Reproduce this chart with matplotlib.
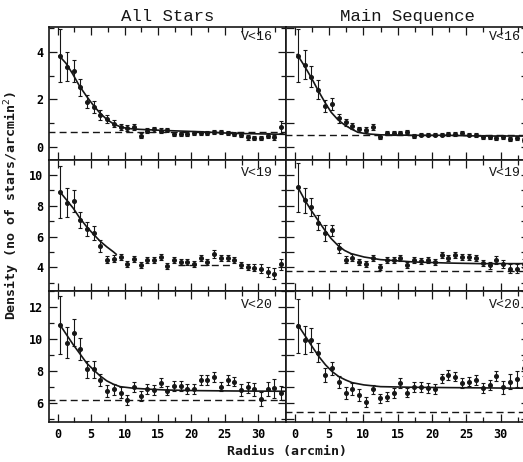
import numpy as np
import matplotlib
matplotlib.use("Agg")
import matplotlib.pyplot as plt
from matplotlib.ticker import MultipleLocator

INK = "#161616"

# radius bins (arcmin), same for every panel
radius = np.arange(34) + 0.4

# --- V<16 ---
all16 = [3.85, 3.38, 3.2, 2.51, 1.9, 1.7, 1.35, 1.17, 0.97, 0.85, 0.8, 0.85, 0.47, 0.69,
         0.74, 0.69, 0.72, 0.55, 0.55, 0.55, 0.58, 0.58, 0.6, 0.62, 0.62, 0.58, 0.55, 0.52,
         0.4, 0.38, 0.38, 0.48, 0.4, 0.85]
all16_err = [1.1, 0.6, 0.45, 0.35, 0.28, 0.25, 0.2, 0.17, 0.15, 0.12, 0.12, 0.12, 0.1, 0.1,
             0.1, 0.1, 0.09, 0.09, 0.09, 0.09, 0.09, 0.09, 0.09, 0.09, 0.09, 0.09, 0.09, 0.09,
             0.1, 0.1, 0.1, 0.12, 0.1, 0.25]
ms16 = [3.85, 3.47, 2.96, 2.4, 1.74, 1.8, 1.2, 1.04, 0.87, 0.74, 0.72, 0.83, 0.4, 0.58,
        0.58, 0.6, 0.62, 0.45, 0.52, 0.52, 0.52, 0.52, 0.56, 0.56, 0.58, 0.52, 0.5, 0.43,
        0.43, 0.36, 0.43, 0.33, 0.38, 0.29]
ms16_err = [1.1, 0.6, 0.45, 0.4, 0.25, 0.25, 0.18, 0.15, 0.13, 0.12, 0.1, 0.12, 0.08, 0.08,
            0.08, 0.08, 0.08, 0.08, 0.08, 0.08, 0.08, 0.08, 0.08, 0.08, 0.08, 0.08, 0.08, 0.08,
            0.08, 0.08, 0.08, 0.08, 0.08, 0.1]

# --- V<19 ---
all19 = [8.9, 8.2, 8.3, 7.07, 6.5, 6.24, 5.37, 4.5, 4.56, 4.67, 4.2, 4.56, 4.13, 4.46,
         4.5, 4.67, 4.07, 4.46, 4.35, 4.35, 4.24, 4.63, 4.35, 4.85, 4.63, 4.63, 4.5, 4.13,
         4.02, 3.98, 3.91, 3.7, 3.59, 4.2]
all19_err = [1.7, 0.95, 0.72, 0.5, 0.45, 0.45, 0.38, 0.25, 0.22, 0.22, 0.2, 0.2, 0.2, 0.2,
             0.2, 0.2, 0.2, 0.2, 0.2, 0.2, 0.2, 0.2, 0.2, 0.25, 0.2, 0.2, 0.2, 0.2,
             0.22, 0.25, 0.3, 0.35, 0.35, 0.35]
ms19 = [9.2, 8.37, 7.9, 6.9, 6.24, 6.41, 5.28, 4.5, 4.63, 4.35, 4.2, 4.63, 4.02, 4.46,
        4.5, 4.63, 4.13, 4.5, 4.41, 4.46, 4.35, 4.78, 4.63, 4.78, 4.67, 4.67, 4.63, 4.28,
        4.13, 4.46, 4.2, 3.91, 3.91, 4.24]
ms19_err = [1.6, 0.82, 0.58, 0.5, 0.5, 0.36, 0.33, 0.22, 0.22, 0.22, 0.2, 0.2, 0.2, 0.2,
            0.2, 0.2, 0.2, 0.2, 0.2, 0.2, 0.2, 0.2, 0.2, 0.2, 0.2, 0.2, 0.2, 0.22,
            0.22, 0.25, 0.25, 0.28, 0.28, 0.3]

# --- V<20 ---
all20 = [10.9, 9.8, 10.42, 9.4, 8.13, 8.13, 7.46, 6.79, 6.88, 6.67, 6.2, 7.0, 6.46, 6.88,
         6.83, 7.29, 6.79, 7.08, 7.08, 6.88, 6.88, 7.46, 7.46, 7.63, 7.04, 7.46, 7.35, 6.83,
         7.0, 6.88, 6.25, 6.88, 6.94, 6.63]
all20_err = [1.8, 1.0, 0.86, 0.68, 0.52, 0.54, 0.39, 0.37, 0.35, 0.35, 0.3, 0.3, 0.3, 0.3,
             0.3, 0.3, 0.3, 0.3, 0.3, 0.3, 0.3, 0.3, 0.3, 0.3, 0.3, 0.3, 0.3, 0.35,
             0.35, 0.4, 0.45, 0.45, 0.6, 0.45]
ms20 = [10.83, 9.96, 9.96, 9.17, 7.77, 8.19, 7.35, 6.63, 6.88, 6.52, 6.1, 6.88, 6.31, 6.42,
        6.63, 7.25, 6.67, 7.0, 7.0, 6.94, 6.88, 7.56, 7.77, 7.67, 7.25, 7.35, 7.46, 6.94,
        7.15, 7.71, 7.0, 7.35, 7.5, 8.19]
ms20_err = [1.7, 0.9, 0.73, 0.62, 0.42, 0.42, 0.38, 0.38, 0.36, 0.36, 0.31, 0.28, 0.3, 0.3,
            0.3, 0.3, 0.3, 0.3, 0.3, 0.3, 0.3, 0.3, 0.3, 0.3, 0.3, 0.3, 0.3, 0.3,
            0.3, 0.3, 0.4, 0.45, 0.5, 0.5]

# fitted profiles
fit_all16_r = [0.25, 1.25, 2.25, 3.25, 4.35, 5.4, 6.35, 7.35, 8.35, 9.35, 10.35, 12.25, 16.25, 21.25, 26.25, 34.2]
fit_all16_v = [3.83, 3.52, 3.07, 2.57, 2.12, 1.73, 1.42, 1.16, 0.97, 0.85, 0.78, 0.74, 0.69, 0.64, 0.57, 0.53]
fit_ms16_r = [0.34, 1.41, 2.38, 3.35, 4.37, 5.29, 6.26, 7.23, 8.2, 9.17, 10.5, 12.5, 17.3, 22.2, 27.0, 34.2]
fit_ms16_v = [3.89, 3.4, 2.92, 2.4, 1.88, 1.46, 1.15, 0.93, 0.76, 0.62, 0.55, 0.51, 0.49, 0.49, 0.46, 0.46]
fit_all19_r = [0.35, 1.35, 2.35, 3.25, 4.35, 5.35, 6.35, 7.35, 8.35, 8.75]
fit_all19_v = [8.9, 8.37, 7.83, 7.24, 6.63, 6.15, 5.7, 5.33, 5.0, 4.85]
fit_ms19_r = [0.44, 1.41, 2.38, 3.35, 4.37, 5.29, 6.26, 7.23, 8.2, 10.1, 12.5, 17.3, 22.2, 27.0, 34.2]
fit_ms19_v = [9.2, 8.4, 7.7, 7.07, 6.41, 5.87, 5.43, 5.1, 4.89, 4.67, 4.5, 4.35, 4.28, 4.24, 4.24]
fit_all20_r = [0.35, 1.35, 2.35, 3.35, 4.35, 5.5, 6.35, 7.35, 8.35, 9.35, 11.35, 13.75, 16.25, 21.25, 26.25, 34.2]
fit_all20_v = [10.9, 10.27, 9.65, 9.08, 8.5, 8.04, 7.71, 7.4, 7.19, 7.04, 6.94, 6.88, 6.83, 6.79, 6.77, 6.75]
fit_ms20_r = [0.44, 1.41, 2.52, 3.5, 4.47, 5.44, 6.4, 7.38, 8.35, 10.05, 12.5, 17.3, 22.2, 34.2]
fit_ms20_v = [10.9, 10.27, 9.54, 8.92, 8.4, 7.98, 7.67, 7.46, 7.29, 7.15, 7.04, 7.0, 6.98, 6.94]

# background levels (dashed) and their radial extent
bg_level = [[0.64, 0.49], [4.13, 3.74], [6.21, 5.48]]
bg_span = [[(-1.4, 34.2), (-1.4, 34.2)], [(18.0, 26.0), (-1.4, 34.2)], [(-1.4, 34.2), (-1.4, 34.2)]]

points = [[(all16, all16_err), (ms16, ms16_err)],
          [(all19, all19_err), (ms19, ms19_err)],
          [(all20, all20_err), (ms20, ms20_err)]]
fits = [[(fit_all16_r, fit_all16_v), (fit_ms16_r, fit_ms16_v)],
        [(fit_all19_r, fit_all19_v), (fit_ms19_r, fit_ms19_v)],
        [(fit_all20_r, fit_all20_v), (fit_ms20_r, fit_ms20_v)]]
mag_labels = ["V<16", "V<19", "V<20"]
col_titles = ["All Stars", "Main Sequence"]
ylims = [(-0.55, 5.05), (2.46, 10.98), (4.83, 13.02)]
ymajor = [2, 2, 2]
ytick_labels = [[0, 2, 4], [4, 6, 8, 10], [6, 8, 10, 12]]
label_y = [0.925, 0.9, 0.89]

W, H = 523, 462
fig = plt.figure(figsize=(W / 100, H / 100), dpi=100)
fig.patch.set_facecolor("white")

rows_px = [(27, 160), (160, 291), (291, 422)]
cols_px = [(49, 237), (286, 243)]   # right column runs off the page, like the scan

mono = "DejaVu Sans Mono"

for i, (top, bot) in enumerate(rows_px):
    for j, (x0, w) in enumerate(cols_px):
        ax = fig.add_axes([x0 / W, 1 - bot / H, w / W, (bot - top) / H])
        vals, errs = points[i][j]
        ax.errorbar(radius, vals, yerr=errs, fmt="o", ms=2.6, color=INK,
                    elinewidth=0.8, capsize=1.7, capthick=0.8, zorder=3)
        fr, fv = fits[i][j]
        ax.plot(fr, fv, color=INK, lw=1.2, zorder=2)
        a, b = bg_span[i][j]
        ax.plot([a, b], [bg_level[i][j]] * 2, color=INK, lw=1.0,
                dashes=(5, 3), zorder=2)

        ax.set_xlim(-1.3, 34.15)
        ax.set_ylim(*ylims[i])
        ax.xaxis.set_major_locator(MultipleLocator(5))
        ax.xaxis.set_minor_locator(MultipleLocator(2.5))
        if j == 0:
            ax.yaxis.set_major_locator(MultipleLocator(ymajor[i]))
            ax.yaxis.set_minor_locator(MultipleLocator(1))
            ax.set_yticks(ytick_labels[i])
            ax.set_yticklabels([str(t) for t in ytick_labels[i]],
                               fontfamily=mono, fontweight="bold", fontsize=8.5)
        else:
            ax.yaxis.set_major_locator(MultipleLocator(1))
            ax.tick_params(axis="y", labelleft=False)
        ax.tick_params(which="both", direction="in", top=True, right=True,
                       color=INK, width=0.9)
        ax.tick_params(which="major", length=6, pad=4)
        ax.tick_params(which="minor", length=3.5)
        if i == 2:
            ax.set_xticks([0, 5, 10, 15, 20, 25, 30])
            ax.set_xticklabels(["0", "5", "10", "15", "20", "25", "30"],
                               fontfamily=mono, fontweight="bold", fontsize=8.5)
        else:
            ax.tick_params(axis="x", labelbottom=False)
        for s in ax.spines.values():
            s.set_linewidth(1.2)
            s.set_color(INK)

        ax.text(0.945 if j == 0 else 0.965, label_y[i], mag_labels[i],
                transform=ax.transAxes, ha="right", va="center",
                fontfamily="Liberation Mono", fontsize=9.5, color=INK)
        if i == 0:
            ax.set_title(col_titles[j], fontfamily="Liberation Mono",
                         fontsize=12.5, color=INK, pad=4)

fig.text(12 / W, 1 - 205 / H, "Density (no of stars/arcmin$^2$)", rotation=90,
         ha="center", va="center", fontfamily=mono, fontweight="bold",
         fontsize=9.5, color=INK)
fig.text(287 / W, 1 - 452 / H, "Radius (arcmin)", ha="center", va="center",
         fontfamily=mono, fontweight="bold", fontsize=9.5, color=INK)

fig.savefig("out.png", dpi=100)
